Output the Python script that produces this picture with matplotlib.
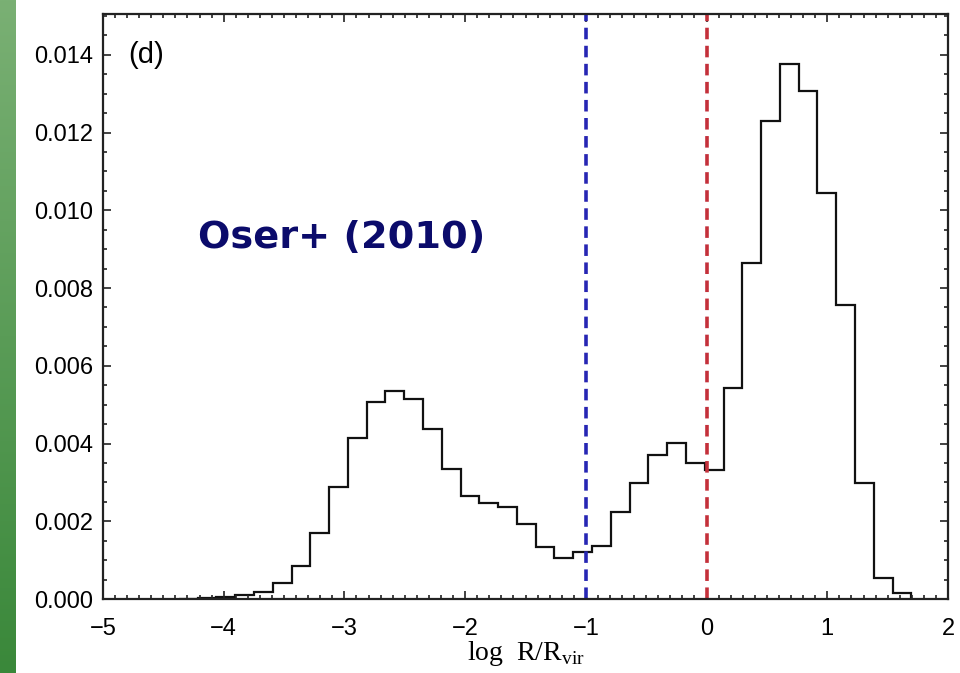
import numpy as np
import matplotlib
matplotlib.use("Agg")
import matplotlib.pyplot as plt
from matplotlib.ticker import MultipleLocator, FixedLocator

# Histogram of log R/Rvir: bin layout and normalised bin heights
bin_start = -4.372          # left edge of the first bin
bin_width = 0.1556
bin_heights = [
    0.00001, 0.00002, 0.00004, 0.00010, 0.00017, 0.00040, 0.00086, 0.00171,
    0.00289, 0.00413, 0.00507, 0.00535, 0.00514, 0.00437, 0.00335, 0.00266,
    0.00246, 0.00236, 0.00193, 0.00133, 0.00105, 0.00122, 0.00136, 0.00223,
    0.00298, 0.00371, 0.00401, 0.00349, 0.00332, 0.00542, 0.00864, 0.01231,
    0.01376, 0.01306, 0.01044, 0.00757, 0.00299, 0.00053, 0.00015,
]
vline_blue = -1.0
vline_red = 0.0
x_ticks = [-5, -4, -3, -2, -1, 0, 1, 2]
y_ticks = [0.000, 0.002, 0.004, 0.006, 0.008, 0.010, 0.012, 0.014]

edges = bin_start + bin_width * np.arange(len(bin_heights) + 1)

plt.rcParams["mathtext.fontset"] = "custom"
plt.rcParams["mathtext.rm"] = "Liberation Serif"

fig = plt.figure(figsize=(9.6, 6.73), dpi=100)

# green strip along the left edge
strip = fig.add_axes([0, 0, 16 / 960, 1])
grad = np.linspace(0, 1, 256)[:, None]
top_c = np.array([122, 176, 116]) / 255
bot_c = np.array([58, 136, 58]) / 255
img = top_c[None, None, :] * (1 - grad[..., None]) + bot_c[None, None, :] * grad[..., None]
strip.imshow(img, aspect="auto", extent=[0, 1, 0, 1])
strip.set_axis_off()

ax = fig.add_axes([103 / 960, 74 / 673, 845 / 960, 585 / 673])

ax.stairs(bin_heights, edges, color="#111111", linewidth=1.6, baseline=0)

dash = dict(linewidth=2.6, dashes=(3.2, 1.8))
ax.axvline(vline_blue, color="#2626b4", **dash)
ax.axvline(vline_red, color="#c4303a", **dash)

ax.set_xlim(-5, 2)
ax.set_ylim(0, 0.01505)

ax.xaxis.set_major_locator(FixedLocator(x_ticks))
ax.yaxis.set_major_locator(FixedLocator(y_ticks))
ax.xaxis.set_minor_locator(MultipleLocator(0.1))
ax.yaxis.set_minor_locator(MultipleLocator(0.0005))
ax.set_xticklabels([f"{t:d}".replace("-", "\u2212") for t in x_ticks],
                   family="Liberation Sans", fontsize=17)
ax.set_yticklabels([f"{t:.3f}" for t in y_ticks],
                   family="Liberation Sans", fontsize=17)

ax.tick_params(which="both", direction="in", top=True, right=True,
               color="#222222", width=1.2)
ax.tick_params(which="major", length=6)
ax.tick_params(which="minor", length=3)
ax.tick_params(axis="x", which="major", pad=14)
ax.tick_params(axis="y", which="major", pad=7)
for s in ax.spines.values():
    s.set_linewidth(1.6)
    s.set_color("#222222")

ax.set_xlabel(r"log  R/R$_{\mathrm{vir}}$", family="Liberation Serif",
              fontsize=20, labelpad=-1)

ax.text(0.0296, 0.93, "(d)", transform=ax.transAxes, ha="left", va="center",
        family="Liberation Sans", fontsize=21)
ax.text(0.1124, 0.617, "Oser+ (2010)", transform=ax.transAxes, ha="left",
        va="center", family="DejaVu Sans", fontweight="bold", fontsize=27.5,
        color="#0b0b6b")

fig.savefig("out.png", dpi=100)
